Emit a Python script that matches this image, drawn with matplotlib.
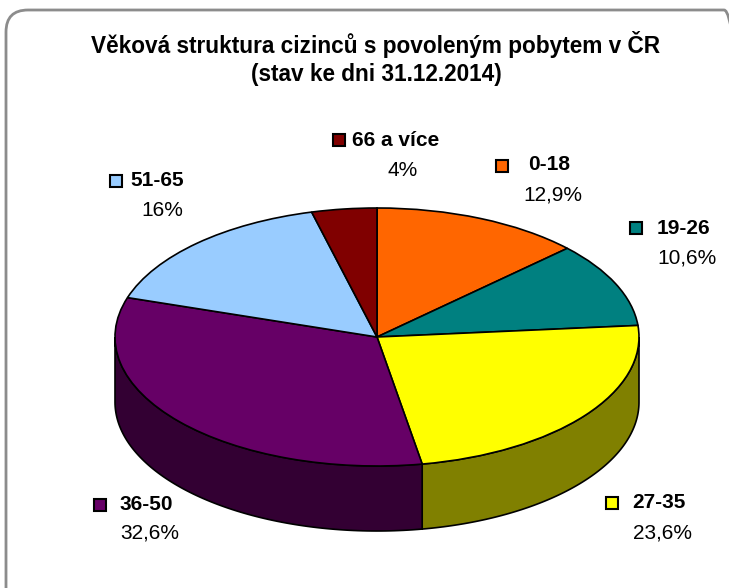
import numpy as np
import matplotlib
matplotlib.use("Agg")
from matplotlib import pyplot as plt
from matplotlib.patches import FancyBboxPatch, Polygon
from matplotlib.transforms import IdentityTransform

# data
labels = ["0-18", "19-26", "27-35", "36-50", "51-65", "66 a více"]
values = [12.9, 10.6, 23.6, 32.6, 16.0, 4.0]
pct_text = ["12,9%", "10,6%", "23,6%", "32,6%", "16%", "4%"]
colors = ["#FF6600", "#008080", "#FFFF00", "#660066", "#99CCFF", "#800000"]
side_colors = ["#803300", "#004040", "#808000", "#330033", "#4D6680", "#400000"]

plt.rcParams["font.family"] = ["Liberation Sans", "DejaVu Sans"]

W, H = 729, 588
fig = plt.figure(figsize=(W / 100, H / 100), dpi=100)
ax = fig.add_axes([0, 0, 1, 1])

# pie geometry in pixels
cx, cy = 377, 337
rx, ry = 262, 129
depth = 65 / ry


def px(x, y):
    # pixel position -> data coordinates
    return (x - cx) / rx, (cy - y) / ry


# top of the pie
wedges, _ = ax.pie(values, colors=colors, startangle=90, counterclock=False,
                   wedgeprops=dict(edgecolor="black", linewidth=1.2),
                   radius=1.0)
for w in wedges:
    w.set_zorder(3)

# side walls (front half only)
for w, sc in zip(wedges, side_colors):
    t1, t2 = w.theta1, w.theta2
    for k in (-1, 0, 1):
        a = max(t1, 180 + 360 * k)
        b = min(t2, 360 + 360 * k)
        if b <= a:
            continue
        t = np.radians(np.linspace(a, b, 100))
        xs = np.cos(t)
        ys = np.sin(t)
        pts = np.concatenate([np.column_stack([xs, ys]),
                              np.column_stack([xs[::-1], ys[::-1] - depth])])
        ax.add_patch(Polygon(pts, closed=True, facecolor=sc,
                             edgecolor="black", linewidth=1.2, zorder=2))

ax.set_aspect("auto")
ax.set_xlim(-cx / rx, (W - cx) / rx)
ax.set_ylim(-(H - cy) / ry, cy / ry)
ax.axis("off")

# rounded frame (display coords, y up)
frame = FancyBboxPatch((6, H - 10 - 600), 740, 600,
                       boxstyle="round,pad=0,rounding_size=22",
                       facecolor="none", edgecolor="#8C8C8C", linewidth=2.0,
                       transform=IdentityTransform())
fig.patches.append(frame)

# title
ax.text(*px(376, 45), "Věková struktura cizinců s povoleným pobytem v ČR",
        ha="center", va="center", fontsize=16.3, fontweight="bold")
ax.text(*px(376, 75), "(stav ke dni 31.12.2014)",
        ha="center", va="center", fontsize=16.3, fontweight="bold")

# labels: square marker, bold name, percentage
square_pos = [(502, 166), (636, 228), (612, 503), (100, 505), (116, 181), (339, 140)]
name_pos = [(528, 165), (657, 228), (632, 503), (120, 504), (130, 181), (352, 140)]
pct_pos = [(553, 195), (687, 258), (662, 533), (150, 533), (162, 210), (403, 171)]

for i in range(len(labels)):
    ax.plot(*px(*square_pos[i]), marker="s", markersize=9,
            markerfacecolor=colors[i], markeredgecolor="black",
            markeredgewidth=1.5, zorder=5)
    ax.text(*px(*name_pos[i]), labels[i], ha="left", va="center",
            fontsize=15, fontweight="bold")
    ax.text(*px(*pct_pos[i]), pct_text[i], ha="center", va="center",
            fontsize=15)

plt.savefig("out.png", dpi=100)
